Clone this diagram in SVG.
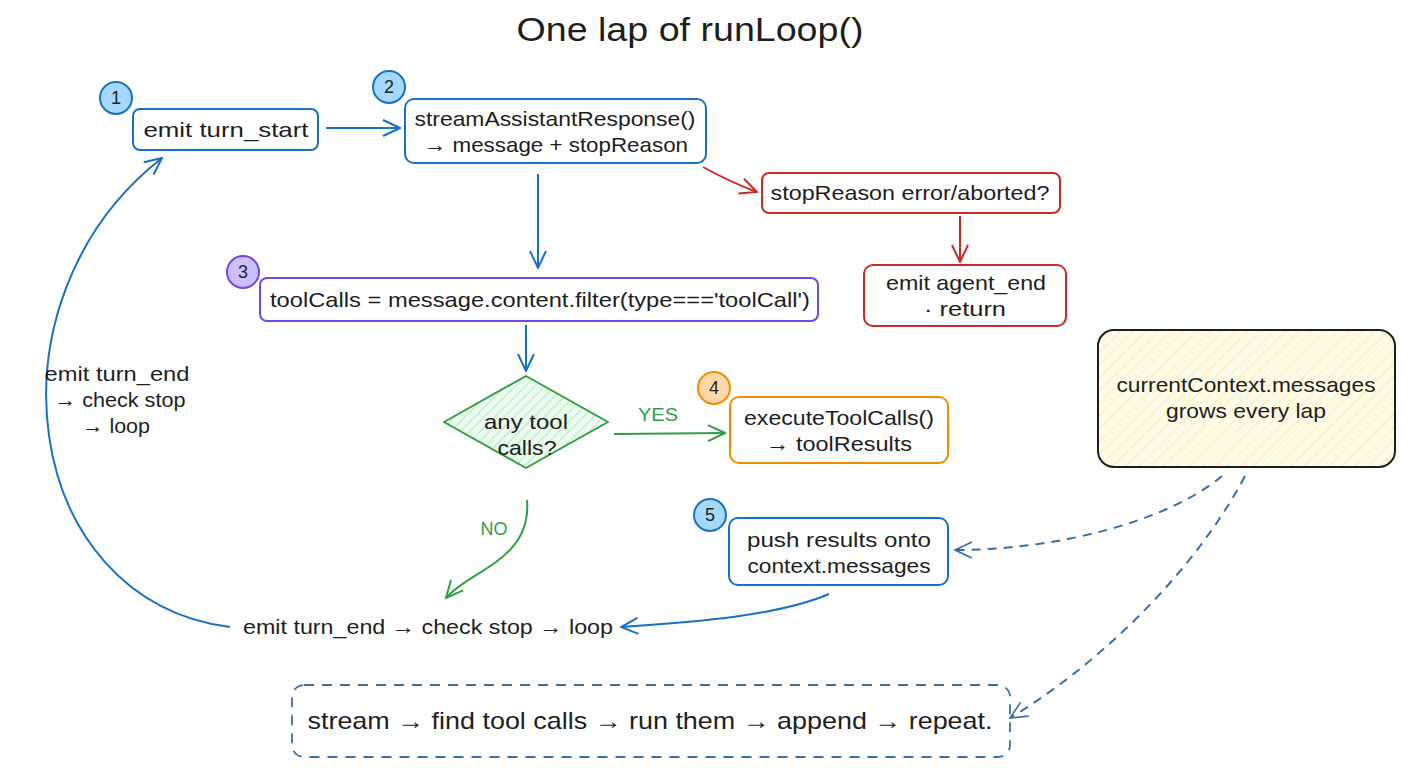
<svg xmlns="http://www.w3.org/2000/svg" width="1408" height="768" viewBox="0 0 1408 768">
<style>
text{font-family:"Liberation Sans","DejaVu Sans",sans-serif;fill:#1e1e1e;text-anchor:middle}
.t{font-size:21px}
.box{fill:#fff;stroke-width:2}
.blue{stroke:#1971c2}
.red{stroke:#c92a2a}
.purple{stroke:#7048e8}
.orange{stroke:#f08c00}
.bt{font-size:18px}
.c{fill:none;stroke-width:2}
.dash{stroke-dasharray:9 7}
</style>
<defs>
<pattern id="hg" width="7" height="7" patternUnits="userSpaceOnUse" patternTransform="rotate(45)">
<rect width="7" height="7" fill="#ebfbee"/><line x1="0" y1="0" x2="0" y2="7" stroke="#8ccf9b" stroke-width="1"/>
</pattern>
<pattern id="hy" width="9" height="9" patternUnits="userSpaceOnUse" patternTransform="rotate(45)">
<rect width="9" height="9" fill="#fffbe6"/><line x1="0" y1="0" x2="0" y2="9" stroke="#eee3a0" stroke-width="1.2"/>
</pattern>
<marker id="ab" viewBox="0 0 20 20" refX="19" refY="10" markerWidth="20" markerHeight="20" markerUnits="userSpaceOnUse" orient="auto"><path d="M2,2 L19,10 L2,18" fill="none" stroke="#1971c2" stroke-width="2"/></marker>
<marker id="ar" viewBox="0 0 20 20" refX="19" refY="10" markerWidth="20" markerHeight="20" markerUnits="userSpaceOnUse" orient="auto"><path d="M2,2 L19,10 L2,18" fill="none" stroke="#c92a2a" stroke-width="2"/></marker>
<marker id="ag" viewBox="0 0 20 20" refX="19" refY="10" markerWidth="20" markerHeight="20" markerUnits="userSpaceOnUse" orient="auto"><path d="M2,2 L19,10 L2,18" fill="none" stroke="#2f9e44" stroke-width="2"/></marker>
<marker id="ao" viewBox="0 0 20 20" refX="19" refY="10" markerWidth="20" markerHeight="20" markerUnits="userSpaceOnUse" orient="auto"><path d="M2,2 L19,10 L2,18" fill="none" stroke="#f08c00" stroke-width="2"/></marker>
<marker id="ad" viewBox="0 0 20 20" refX="19" refY="10" markerWidth="20" markerHeight="20" markerUnits="userSpaceOnUse" orient="auto"><path d="M2,2 L19,10 L2,18" fill="none" stroke="#3a6ea5" stroke-width="1.6"/></marker>
</defs>
<rect width="1408" height="768" fill="#fff"/>
<text x="690" y="41" style="font-size:33px" textLength="347" lengthAdjust="spacingAndGlyphs">One lap of runLoop()</text>

<g id="connectors">
<path class="c" stroke="#1971c2" d="M326,128 L400,128" marker-end="url(#ab)"/>
<path class="c" stroke="#1971c2" d="M538,174 L538,268" marker-end="url(#ab)"/>
<path class="c" stroke="#c92a2a" d="M703,167 Q730,182 757,192" marker-end="url(#ar)"/>
<path class="c" stroke="#c92a2a" d="M960,216 L960,262" marker-end="url(#ar)"/>
<path class="c" stroke="#1971c2" d="M526,325 L526,371" marker-end="url(#ab)"/>
<path class="c" stroke="#2f9e44" d="M614,434 L725,433" marker-end="url(#ag)"/>
<text x="658" y="421" class="bt" style="fill:#2f9e44" textLength="40" lengthAdjust="spacingAndGlyphs">YES</text>
<path class="c" stroke="#2f9e44" d="M527,500 C532,560 470,570 446,598" marker-end="url(#ag)"/>
<text x="494" y="535" class="bt" style="fill:#2f9e44" textLength="27" lengthAdjust="spacingAndGlyphs">NO</text>
<path class="c" stroke="#1971c2" d="M829,594 C780,615 700,622 621,627" marker-end="url(#ab)"/>
<path class="c" stroke="#1971c2" d="M230,627 C20,600 -20,300 162,158" marker-end="url(#ab)"/>
<path class="c dash" stroke="#3a6ea5" stroke-width="1.6" d="M1222,476 C1170,520 1060,550 955,550" marker-end="url(#ad)"/>
<path class="c dash" stroke="#3a6ea5" stroke-width="1.6" d="M1245,476 C1190,580 1090,670 1010,718" marker-end="url(#ad)"/>
</g>

<g id="node1">
<rect class="box blue" x="133" y="109" width="185" height="41" rx="7"/>
<text class="t" x="226" y="137" textLength="165" lengthAdjust="spacingAndGlyphs">emit turn_start</text>
<circle cx="116" cy="98" r="16" fill="#a5d8ff" stroke="#1971c2" stroke-width="2"/>
<text x="116" y="104" class="bt">1</text>
</g>

<g id="node2">
<rect class="box blue" x="405" y="99" width="301" height="64" rx="9"/>
<text class="t" x="555" y="126" textLength="281" lengthAdjust="spacingAndGlyphs">streamAssistantResponse()</text>
<text class="t" x="556" y="152" textLength="264" lengthAdjust="spacingAndGlyphs">→ message + stopReason</text>
<circle cx="389" cy="87" r="16" fill="#a5d8ff" stroke="#1971c2" stroke-width="2"/>
<text x="389" y="93" class="bt">2</text>
</g>

<g id="nodeErr">
<rect class="box red" x="762" y="173" width="298" height="40" rx="7"/>
<text class="t" x="910" y="200" textLength="279" lengthAdjust="spacingAndGlyphs">stopReason error/aborted?</text>
</g>

<g id="nodeEnd">
<rect class="box red" x="864" y="265" width="202" height="61" rx="9"/>
<text class="t" x="966" y="290" textLength="160" lengthAdjust="spacingAndGlyphs">emit agent_end</text>
<text class="t" x="965" y="316" textLength="82" lengthAdjust="spacingAndGlyphs">· return</text>
</g>

<g id="node3">
<rect class="box purple" x="260" y="278" width="558" height="43" rx="7"/>
<text class="t" x="540" y="307" textLength="540" lengthAdjust="spacingAndGlyphs">toolCalls = message.content.filter(type==='toolCall')</text>
<circle cx="243" cy="272" r="16" fill="#d0bfff" stroke="#7048e8" stroke-width="2"/>
<text x="243" y="278" class="bt">3</text>
</g>

<g id="decision">
<path d="M526,376 L608,422 L526,468 L444,422 Z" fill="url(#hg)" stroke="#2f9e44" stroke-width="2" stroke-linejoin="round"/>
<text class="t" x="526" y="429" textLength="84" lengthAdjust="spacingAndGlyphs">any tool</text>
<text class="t" x="527" y="455" textLength="59" lengthAdjust="spacingAndGlyphs">calls?</text>
</g>

<g id="node4">
<rect class="box orange" x="730" y="397" width="218" height="66" rx="9"/>
<text class="t" x="839" y="425" textLength="190" lengthAdjust="spacingAndGlyphs">executeToolCalls()</text>
<text class="t" x="839" y="451" textLength="146" lengthAdjust="spacingAndGlyphs">→ toolResults</text>
<circle cx="714" cy="388" r="16" fill="#ffd8a8" stroke="#f08c00" stroke-width="2"/>
<text x="714" y="394" class="bt">4</text>
</g>

<g id="node5">
<rect class="box blue" x="729" y="518" width="219" height="67" rx="9"/>
<text class="t" x="839" y="547" textLength="184" lengthAdjust="spacingAndGlyphs">push results onto</text>
<text class="t" x="839" y="573" textLength="183" lengthAdjust="spacingAndGlyphs">context.messages</text>
<circle cx="710" cy="515" r="16" fill="#a5d8ff" stroke="#1971c2" stroke-width="2"/>
<text x="710" y="521" class="bt">5</text>
</g>

<g id="loopText">
<text class="t" x="428" y="634" textLength="370" lengthAdjust="spacingAndGlyphs">emit turn_end → check stop → loop</text>
</g>

<g id="loopLabel">
<text class="t" x="117" y="381" textLength="145" lengthAdjust="spacingAndGlyphs">emit turn_end</text>
<text class="t" x="120" y="407" textLength="131" lengthAdjust="spacingAndGlyphs">→ check stop</text>
<text class="t" x="116" y="433" textLength="68" lengthAdjust="spacingAndGlyphs">→ loop</text>
</g>

<g id="note">
<rect x="1098" y="330" width="297" height="137" rx="16" fill="url(#hy)" stroke="#1e1e1e" stroke-width="2"/>
<text class="t" x="1246" y="392" textLength="259" lengthAdjust="spacingAndGlyphs">currentContext.messages</text>
<text class="t" x="1246" y="418" textLength="160" lengthAdjust="spacingAndGlyphs">grows every lap</text>
</g>

<g id="summary">
<rect x="292" y="685" width="718" height="72" rx="12" fill="none" stroke="#3a6ea5" stroke-width="1.8" stroke-dasharray="10 8"/>
<text x="650" y="729" style="font-size:24px" textLength="685" lengthAdjust="spacingAndGlyphs">stream → find tool calls → run them → append → repeat.</text>
</g>
</svg>
